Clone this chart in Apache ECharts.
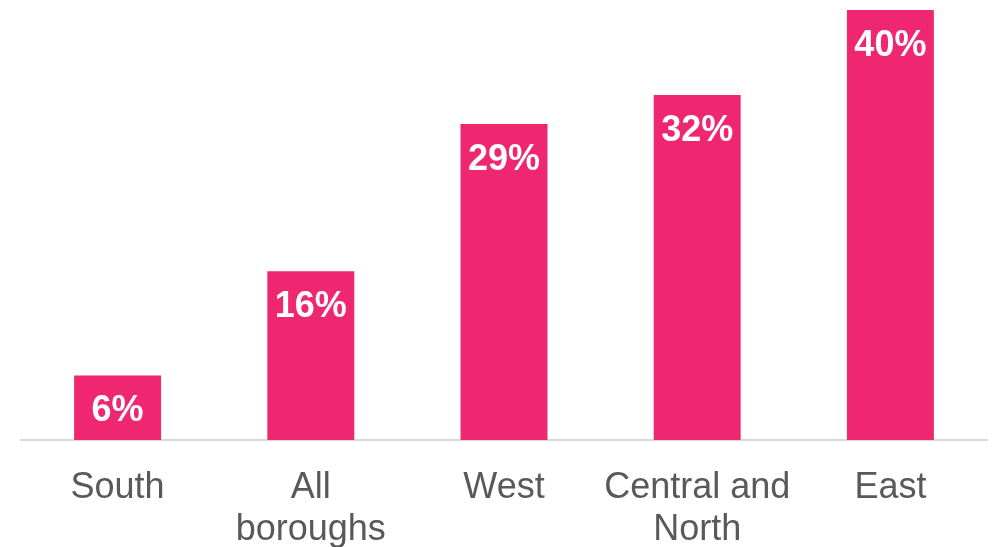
<!DOCTYPE html>
<html>
<head>
<meta charset="utf-8">
<script src="https://cdn.jsdelivr.net/npm/echarts@6/dist/echarts.min.js"></script>
<style>
  html, body { margin: 0; padding: 0; background: #fff; }
  #chart { width: 992px; height: 547px; }
</style>
</head>
<body>
<div id="chart"></div>
<script>
// regions (%)
var regions = ['South', 'All\nboroughs', 'West', 'Central and\nNorth', 'East'];
var shares = [6, 15.7, 29.4, 32.1, 40];

var chart = echarts.init(document.getElementById('chart'));
var option = {
  animation: false,
  grid: {
    left: 21,
    right: 5,
    top: 10,
    bottom: 107,
    outerBoundsMode: 'none'
  },
  xAxis: {
    type: 'category',
    data: regions,
    axisTick: { show: false },
    axisLine: { lineStyle: { color: '#d9d9d9', width: 2 } },
    axisLabel: {
      color: '#595959',
      fontFamily: 'Liberation Sans, Arial, sans-serif',
      fontSize: 36,
      lineHeight: 42,
      margin: 27,
      interval: 0
    }
  },
  yAxis: {
    type: 'value',
    min: 0,
    max: 40,
    show: false,
    splitLine: { show: false }
  },
  series: [{
    type: 'bar',
    data: shares,
    barWidth: '45%',
    itemStyle: { color: '#ef2670' },
    label: {
      show: true,
      position: 'insideTop',
      distance: 18,
      color: '#fff',
      fontWeight: 'bold',
      fontFamily: 'Liberation Sans, Arial, sans-serif',
      fontSize: 36,
      formatter: function (p) { return Math.round(p.value) + '%'; }
    }
  }]
};
chart.setOption(option);
</script>
</body>
</html>
